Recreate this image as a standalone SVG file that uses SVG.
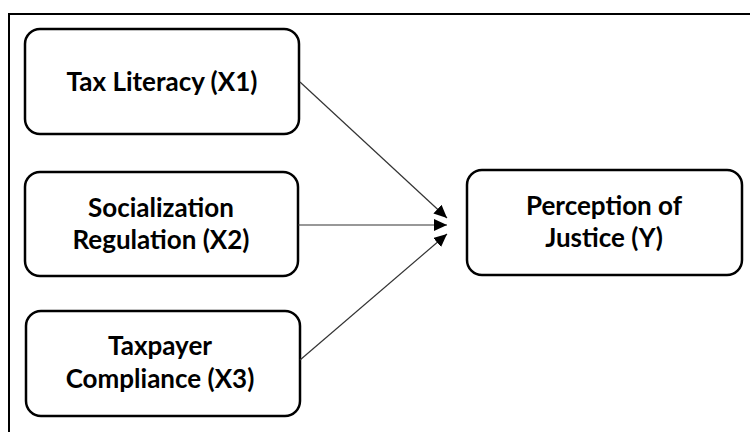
<svg xmlns="http://www.w3.org/2000/svg" width="750" height="432" viewBox="0 0 750 432">
  <style>
    .box { fill: #fff; stroke: #000; stroke-width: 2.5; }
    .lbl { font-family: Lato, "Open Sans", "Liberation Sans", sans-serif; font-weight: bold; font-size: 26px; fill: #000; text-anchor: middle; }
    .conn { stroke: #333; stroke-width: 1.2; fill: none; marker-end: url(#arr); }
  </style>
  <defs>
    <marker id="arr" markerUnits="userSpaceOnUse" markerWidth="14" markerHeight="12" refX="13" refY="6" orient="auto">
      <path d="M0,0 L13,6 L0,12 Z" fill="#000"/>
    </marker>
  </defs>
  <rect width="750" height="432" fill="#fff"/>
  <path d="M9,432 V14 H750" fill="none" stroke="#000" stroke-width="2"/>
  <g id="x1">
    <rect class="box" x="25" y="29" width="274" height="105" rx="15"/>
    <text class="lbl" x="162" y="91">Tax Literacy (X1)</text>
  </g>
  <g id="x2">
    <rect class="box" x="25" y="172" width="273" height="104" rx="15"/>
    <text class="lbl" x="161" y="217">Socialization</text>
    <text class="lbl" x="161" y="249">Regulation (X2)</text>
  </g>
  <g id="x3">
    <rect class="box" x="26" y="311" width="274" height="105" rx="15"/>
    <text class="lbl" x="160" y="355">Taxpayer</text>
    <text class="lbl" x="160" y="388">Compliance (X3)</text>
  </g>
  <g id="y">
    <rect class="box" x="467" y="170" width="275" height="105" rx="15"/>
    <text class="lbl" x="604" y="215">Perception of</text>
    <text class="lbl" x="604" y="247">Justice (Y)</text>
  </g>
  <g id="connectors">
    <line class="conn" x1="300" y1="82" x2="447" y2="218"/>
    <line class="conn" x1="298" y1="225" x2="447" y2="225"/>
    <line class="conn" x1="300" y1="360" x2="447" y2="234"/>
  </g>
</svg>
